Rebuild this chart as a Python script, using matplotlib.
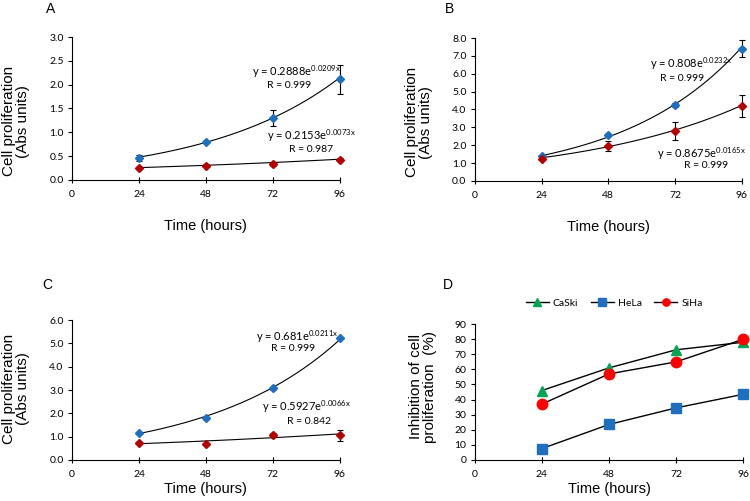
import numpy as np
import matplotlib
matplotlib.use("Agg")
import matplotlib.pyplot as plt

plt.rcParams["font.family"] = ["Liberation Sans", "DejaVu Sans"]
plt.rcParams["mathtext.fontset"] = "custom"
plt.rcParams["mathtext.rm"] = "Lato"
plt.rcParams["mathtext.it"] = "Lato"

hours = [24, 48, 72, 96]
xticks = [0, 24, 48, 72, 96]

# panel A
a_blue = [0.46, 0.80, 1.30, 2.11]
a_blue_err = [0.07, 0.02, 0.17, 0.31]
a_red = [0.24, 0.30, 0.33, 0.42]
a_red_err = [0.02, 0.03, 0.04, 0.03]
a_fits = [(0.2888, 0.0209, "0.2888", "0.0209", "0.999"),
          (0.2153, 0.0073, "0.2153", "0.0073", "0.987")]

# panel B
b_blue = [1.38, 2.55, 4.25, 7.40]
b_blue_err = [0.06, 0.06, 0.12, 0.48]
b_red = [1.25, 1.93, 2.77, 4.20]
b_red_err = [0.05, 0.28, 0.50, 0.62]
b_fits = [(0.808, 0.0232, "0.808", "0.0232", "0.999"),
          (0.8675, 0.0165, "0.8675", "0.0165", "0.999")]

# panel C
c_blue = [1.15, 1.80, 3.08, 5.24]
c_blue_err = [0.05, 0.05, 0.06, 0.05]
c_red = [0.72, 0.68, 1.08, 1.05]
c_red_err = [0.05, 0.05, 0.08, 0.25]
c_fits = [(0.681, 0.0211, "0.681", "0.0211", "0.999"),
          (0.5927, 0.0066, "0.5927", "0.0066", "0.842")]

# panel D
caski = [46, 61, 73, 78]
hela = [7.5, 23.5, 34.5, 43.5]
siha = [37, 57, 65, 80]

blue = "#1f6fc0"
dred = "#b40000"
tickfont = "Lato"

fig = plt.figure(figsize=(7.5, 5.01), dpi=100)
axA = fig.add_axes([0.096, 0.641, 0.357, 0.285])
axB = fig.add_axes([0.633, 0.639, 0.356, 0.285])
axC = fig.add_axes([0.096, 0.082, 0.357, 0.279])
axD = fig.add_axes([0.633, 0.082, 0.358, 0.271])


def style(ax, ymax, ystep, fmt):
    for s in ["top", "right"]:
        ax.spines[s].set_visible(False)
    ax.set_xlim(0, 96)
    ax.set_ylim(0, ymax)
    ax.set_xticks(xticks)
    ax.set_yticks(np.arange(0, ymax + ystep / 2, ystep))
    ax.yaxis.set_major_formatter(matplotlib.ticker.FormatStrFormatter(fmt))
    ax.tick_params(axis="x", direction="inout", length=5, width=0.8, labelsize=7.5, pad=5)
    ax.tick_params(axis="y", direction="out", length=3, width=0.8, labelsize=7.5, pad=3)
    for lab in ax.get_xticklabels() + ax.get_yticklabels():
        lab.set_fontfamily(tickfont)


def growth(ax, blue_v, blue_e, red_v, red_e, fits, pos, ymax, ystep, xlabpad, ylab_y):
    style(ax, ymax, ystep, "%.1f")
    xx = np.linspace(24, 96, 200)
    for (a, b, sa, sb, r), (ex, ey, rx, ry) in zip(fits, pos):
        ax.plot(xx, a * np.exp(b * xx), color="black", lw=0.8, zorder=2)
        ax.text(ex, ey, "y = %se$^{%sx}$" % (sa, sb), ha="center", va="center",
                fontsize=8, fontfamily=tickfont)
        ax.text(rx, ry, "R = %s" % r, ha="center", va="center",
                fontsize=7.5, fontfamily=tickfont)
    ax.errorbar(hours, blue_v, yerr=blue_e, fmt="D", color=blue, ms=4,
                ecolor="black", elinewidth=0.8, capsize=2.5, capthick=0.8,
                clip_on=False, zorder=3)
    ax.errorbar(hours, red_v, yerr=red_e, fmt="D", color=dred, ms=4,
                ecolor="black", elinewidth=0.8, capsize=2.5, capthick=0.8,
                clip_on=False, zorder=3)
    ax.set_ylabel("Cell proliferation\n(Abs units)", fontsize=11, linespacing=1.05)
    ax.yaxis.set_label_coords(-0.155, ylab_y)
    ax.set_xlabel("Time (hours)", fontsize=10.5, labelpad=xlabpad)


growth(axA, a_blue, a_blue_err, a_red, a_red_err, a_fits,
       [(80.5, 2.27, 77.8, 1.99), (85.7, 0.92, 85.7, 0.63)], 3.0, 0.5, 14, 0.41)
growth(axB, b_blue, b_blue_err, b_red, b_red_err, b_fits,
       [(77.7, 6.55, 74.4, 5.76), (81.6, 1.51, 83.1, 0.84)], 8.0, 1.0, 14, 0.41)
growth(axC, c_blue, c_blue_err, c_red, c_red_err, c_fits,
       [(80.7, 5.31, 79.3, 4.8), (84.2, 2.27, 85.0, 1.67)], 6.0, 1.0, 2, 0.51)

style(axD, 90, 10, "%d")
axD.plot(hours, caski, "-^", color="black", mfc="#00a651", mec="#00a651", ms=7.5,
         lw=1.0, clip_on=False, zorder=3, label="CaSki")
axD.plot(hours, hela, "-s", color="black", mfc=blue, mec=blue, ms=7.5,
         lw=1.0, clip_on=False, zorder=3, label="HeLa")
axD.plot(hours, siha, "-o", color="black", mfc="#ff0000", mec="#ff0000", ms=7.5,
         lw=1.0, clip_on=False, zorder=4, label="SiHa")
axD.set_ylabel("Inhibition of cell\nproliferation  (%)", fontsize=11, linespacing=1.05)
axD.yaxis.set_label_coords(-0.14, 0.54)
axD.set_xlabel("Time (hours)", fontsize=10.5, labelpad=2)
axD.legend(loc="lower center", bbox_to_anchor=(0.52, 1.05), ncol=3, frameon=False,
           markerscale=0.7, handlelength=2.2, columnspacing=1.2,
           handletextpad=0.4, prop={"family": tickfont, "size": 7.5})

fig.text(0.067, 0.983, "A", fontsize=10, va="center", ha="center")
fig.text(0.600, 0.983, "B", fontsize=10, va="center", ha="center")
fig.text(0.063, 0.431, "C", fontsize=10, va="center", ha="center")
fig.text(0.597, 0.431, "D", fontsize=10, va="center", ha="center")

fig.savefig("out.png", dpi=100)
